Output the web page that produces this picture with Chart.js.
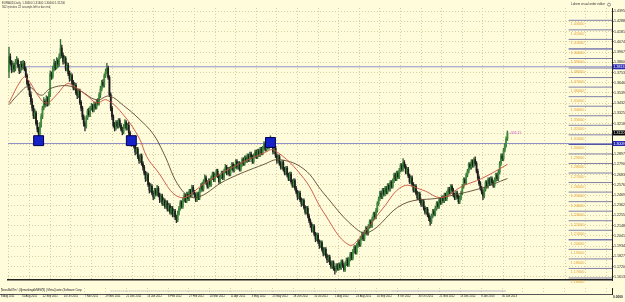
<!DOCTYPE html>
<html>
<head>
<meta charset="utf-8">
<script src="https://cdn.jsdelivr.net/npm/chart.js@4.4.0/dist/chart.umd.min.js"></script>
<style>
  html, body { margin: 0; padding: 0; background: #fff; }
  #wrap { position: relative; width: 625px; height: 302px; background: #FFFCDC; overflow: hidden; }
  #main { position: absolute; left: 0; top: 0; }
  #sub { position: absolute; left: 0; top: 288px; }
</style>
</head>
<body>
<div id="wrap">
  <canvas id="main" width="625" height="288"></canvas>
  <canvas id="sub" width="625" height="14"></canvas>
</div>
<script>
// EURAUD daily bars, 8 Aug 2011 .. 1 Feb 2013 (index = bar number)
const opens = [
  1.3760,1.3920,1.3850,1.3780,1.3830,1.3790,1.3860,1.3880,1.3820,1.3770,
  1.3840,1.3810,1.3850,1.3790,1.3720,1.3640,1.3600,1.3520,1.3450,1.3380,
  1.3300,1.3330,1.3220,1.3160,1.3110,1.3200,1.3290,1.3380,1.3450,1.3420,
  1.3480,1.3430,1.3520,1.3740,1.3710,1.3790,1.3850,1.3800,1.3880,1.3840,
  1.3920,1.4010,1.3930,1.3870,1.3900,1.3790,1.3830,1.3740,1.3690,1.3720,
  1.3640,1.3590,1.3620,1.3540,1.3510,1.3560,1.3440,1.3380,1.3290,1.3220,
  1.3190,1.3280,1.3350,1.3310,1.3380,1.3400,1.3360,1.3420,1.3390,1.3450,
  1.3430,1.3520,1.3580,1.3650,1.3620,1.3720,1.3760,1.3800,1.3700,1.3520,
  1.3380,1.3290,1.3200,1.3170,1.3230,1.3190,1.3250,1.3200,1.3160,1.3130,
  1.3190,1.3230,1.3170,1.3200,1.3120,1.3060,1.3010,1.3050,1.2980,1.2920,
  1.2950,1.2870,1.2830,1.2880,1.2800,1.2760,1.2700,1.2640,1.2680,1.2580,
  1.2520,1.2560,1.2490,1.2450,1.2520,1.2480,1.2540,1.2470,1.2420,1.2460,
  1.2380,1.2410,1.2350,1.2390,1.2320,1.2360,1.2290,1.2330,1.2260,1.2300,
  1.2240,1.2210,1.2280,1.2330,1.2390,1.2350,1.2420,1.2460,1.2410,1.2480,
  1.2430,1.2510,1.2470,1.2550,1.2500,1.2470,1.2420,1.2480,1.2440,1.2520,
  1.2570,1.2530,1.2610,1.2650,1.2600,1.2560,1.2620,1.2580,1.2650,1.2690,
  1.2630,1.2680,1.2720,1.2670,1.2610,1.2660,1.2700,1.2650,1.2720,1.2760,
  1.2700,1.2740,1.2690,1.2750,1.2790,1.2730,1.2770,1.2820,1.2760,1.2800,
  1.2740,1.2790,1.2840,1.2800,1.2860,1.2830,1.2880,1.2840,1.2900,1.2870,
  1.2820,1.2880,1.2920,1.2870,1.2930,1.2890,1.2950,1.2910,1.2960,1.3000,
  1.2950,1.3010,1.2970,1.3020,1.3050,1.2990,1.2920,1.2960,1.2880,1.2830,
  1.2870,1.2800,1.2760,1.2810,1.2740,1.2700,1.2750,1.2680,1.2640,1.2690,
  1.2610,1.2570,1.2620,1.2540,1.2500,1.2450,1.2490,1.2420,1.2380,1.2410,
  1.2340,1.2290,1.2330,1.2250,1.2200,1.2160,1.2100,1.2140,1.2060,1.2010,
  1.2050,1.1980,1.1940,1.1970,1.1900,1.1860,1.1900,1.1830,1.1790,1.1820,
  1.1760,1.1720,1.1760,1.1700,1.1680,1.1730,1.1700,1.1740,1.1710,1.1770,
  1.1730,1.1690,1.1750,1.1790,1.1740,1.1800,1.1850,1.1810,1.1880,1.1920,
  1.1870,1.1940,1.1980,1.1950,1.2020,1.2060,1.2010,1.2080,1.2120,1.2070,
  1.2140,1.2190,1.2150,1.2220,1.2270,1.2240,1.2310,1.2380,1.2430,1.2490,
  1.2450,1.2520,1.2480,1.2540,1.2500,1.2570,1.2530,1.2600,1.2560,1.2620,
  1.2680,1.2640,1.2700,1.2660,1.2730,1.2780,1.2740,1.2810,1.2770,1.2710,
  1.2740,1.2670,1.2610,1.2650,1.2580,1.2520,1.2560,1.2490,1.2440,1.2480,
  1.2410,1.2370,1.2400,1.2330,1.2290,1.2320,1.2260,1.2230,1.2190,1.2250,
  1.2300,1.2270,1.2330,1.2380,1.2350,1.2420,1.2390,1.2440,1.2410,1.2470,
  1.2430,1.2490,1.2530,1.2500,1.2560,1.2520,1.2470,1.2440,1.2490,1.2450,
  1.2400,1.2440,1.2490,1.2560,1.2630,1.2600,1.2680,1.2720,1.2790,1.2760,
  1.2820,1.2780,1.2840,1.2800,1.2720,1.2650,1.2590,1.2540,1.2500,1.2460,
  1.2530,1.2600,1.2560,1.2630,1.2590,1.2640,1.2600,1.2570,1.2630,1.2680,
  1.2640,1.2710,1.2800,1.2880,1.2850,1.2940,1.2990,1.3060
]
const highs = [
  1.4020,1.3950,1.3880,1.3870,1.3850,1.3890,1.3920,1.3900,1.3840,1.3870,
  1.3870,1.3880,1.3870,1.3810,1.3740,1.3670,1.3630,1.3550,1.3480,1.3410,
  1.3370,1.3350,1.3250,1.3180,1.3230,1.3320,1.3400,1.3490,1.3470,1.3510,
  1.3500,1.3550,1.3770,1.3760,1.3820,1.3890,1.3870,1.3910,1.3900,1.3950,
  1.4100,1.4040,1.3960,1.3930,1.3920,1.3860,1.3850,1.3770,1.3750,1.3740,
  1.3670,1.3650,1.3640,1.3570,1.3580,1.3580,1.3460,1.3400,1.3310,1.3240,
  1.3300,1.3370,1.3380,1.3400,1.3430,1.3420,1.3440,1.3440,1.3470,1.3480,
  1.3540,1.3610,1.3670,1.3680,1.3740,1.3790,1.3850,1.3820,1.3720,1.3540,
  1.3400,1.3310,1.3230,1.3250,1.3250,1.3270,1.3270,1.3220,1.3180,1.3210,
  1.3260,1.3250,1.3220,1.3230,1.3140,1.3080,1.3070,1.3070,1.3000,1.2970,
  1.2970,1.2890,1.2900,1.2900,1.2820,1.2780,1.2720,1.2710,1.2700,1.2600,
  1.2590,1.2580,1.2510,1.2540,1.2540,1.2570,1.2560,1.2490,1.2480,1.2480,
  1.2440,1.2430,1.2410,1.2410,1.2380,1.2380,1.2350,1.2350,1.2320,1.2320,
  1.2260,1.2300,1.2350,1.2410,1.2410,1.2440,1.2490,1.2480,1.2500,1.2500,
  1.2530,1.2530,1.2570,1.2570,1.2520,1.2490,1.2500,1.2500,1.2540,1.2590,
  1.2600,1.2630,1.2680,1.2670,1.2620,1.2640,1.2640,1.2670,1.2710,1.2710,
  1.2700,1.2740,1.2740,1.2690,1.2680,1.2720,1.2720,1.2740,1.2790,1.2780,
  1.2760,1.2760,1.2770,1.2810,1.2810,1.2790,1.2840,1.2840,1.2820,1.2820,
  1.2810,1.2860,1.2860,1.2880,1.2880,1.2900,1.2900,1.2920,1.2920,1.2890,
  1.2900,1.2940,1.2940,1.2950,1.2950,1.2970,1.2970,1.2980,1.3030,1.3020,
  1.3030,1.3030,1.3040,1.3090,1.3070,1.3010,1.2980,1.2980,1.2900,1.2890,
  1.2890,1.2820,1.2830,1.2830,1.2760,1.2770,1.2770,1.2700,1.2710,1.2710,
  1.2630,1.2640,1.2640,1.2560,1.2520,1.2510,1.2510,1.2440,1.2430,1.2430,
  1.2360,1.2350,1.2350,1.2270,1.2220,1.2180,1.2160,1.2160,1.2080,1.2070,
  1.2070,1.2000,1.1990,1.1990,1.1920,1.1920,1.1920,1.1850,1.1840,1.1840,
  1.1780,1.1780,1.1780,1.1720,1.1750,1.1750,1.1760,1.1760,1.1790,1.1790,
  1.1750,1.1770,1.1810,1.1810,1.1820,1.1870,1.1870,1.1900,1.1940,1.1940,
  1.1960,1.2000,1.2000,1.2040,1.2080,1.2080,1.2100,1.2140,1.2140,1.2160,
  1.2210,1.2210,1.2240,1.2290,1.2290,1.2330,1.2400,1.2450,1.2510,1.2510,
  1.2540,1.2540,1.2560,1.2560,1.2590,1.2590,1.2620,1.2620,1.2640,1.2700,
  1.2700,1.2720,1.2720,1.2750,1.2800,1.2800,1.2850,1.2830,1.2790,1.2760,
  1.2760,1.2690,1.2670,1.2670,1.2600,1.2580,1.2580,1.2510,1.2500,1.2500,
  1.2430,1.2420,1.2420,1.2350,1.2340,1.2340,1.2280,1.2250,1.2270,1.2320,
  1.2320,1.2350,1.2400,1.2400,1.2440,1.2440,1.2460,1.2460,1.2490,1.2490,
  1.2510,1.2550,1.2550,1.2580,1.2580,1.2540,1.2490,1.2510,1.2510,1.2470,
  1.2460,1.2510,1.2580,1.2650,1.2650,1.2700,1.2740,1.2810,1.2810,1.2840,
  1.2840,1.2860,1.2870,1.2820,1.2740,1.2670,1.2610,1.2560,1.2520,1.2550,
  1.2620,1.2620,1.2650,1.2650,1.2660,1.2660,1.2620,1.2650,1.2700,1.2700,
  1.2730,1.2820,1.2900,1.2900,1.2960,1.3010,1.3080,1.3140
]
const lows = [
  1.3700,1.3830,1.3750,1.3760,1.3760,1.3770,1.3840,1.3800,1.3740,1.3750,
  1.3780,1.3790,1.3770,1.3700,1.3620,1.3570,1.3500,1.3420,1.3350,1.3270,
  1.3270,1.3200,1.3130,1.3050,1.3090,1.3180,1.3270,1.3360,1.3390,1.3400,
  1.3400,1.3410,1.3500,1.3680,1.3690,1.3770,1.3780,1.3790,1.3810,1.3820,
  1.3900,1.3910,1.3840,1.3850,1.3770,1.3770,1.3720,1.3660,1.3670,1.3620,
  1.3570,1.3570,1.3520,1.3480,1.3490,1.3420,1.3350,1.3260,1.3190,1.3140,
  1.3170,1.3260,1.3290,1.3290,1.3360,1.3340,1.3340,1.3370,1.3370,1.3410,
  1.3410,1.3490,1.3560,1.3600,1.3600,1.3700,1.3740,1.3680,1.3500,1.3350,
  1.3260,1.3180,1.3140,1.3150,1.3170,1.3170,1.3180,1.3140,1.3100,1.3110,
  1.3170,1.3150,1.3150,1.3100,1.3040,1.2980,1.2990,1.2960,1.2890,1.2900,
  1.2850,1.2800,1.2810,1.2780,1.2730,1.2680,1.2610,1.2620,1.2560,1.2490,
  1.2500,1.2470,1.2420,1.2430,1.2460,1.2460,1.2450,1.2390,1.2400,1.2360,
  1.2360,1.2330,1.2330,1.2300,1.2300,1.2270,1.2270,1.2240,1.2240,1.2210,
  1.2180,1.2190,1.2260,1.2310,1.2330,1.2330,1.2400,1.2390,1.2390,1.2410,
  1.2410,1.2450,1.2450,1.2480,1.2440,1.2400,1.2400,1.2420,1.2420,1.2500,
  1.2510,1.2510,1.2590,1.2580,1.2540,1.2540,1.2560,1.2560,1.2630,1.2610,
  1.2610,1.2660,1.2650,1.2590,1.2590,1.2640,1.2630,1.2630,1.2700,1.2680,
  1.2680,1.2670,1.2670,1.2730,1.2710,1.2710,1.2750,1.2740,1.2740,1.2720,
  1.2720,1.2770,1.2780,1.2780,1.2810,1.2810,1.2820,1.2820,1.2850,1.2800,
  1.2800,1.2860,1.2850,1.2850,1.2870,1.2870,1.2890,1.2890,1.2940,1.2930,
  1.2930,1.2950,1.2950,1.3000,1.2970,1.2900,1.2900,1.2860,1.2800,1.2810,
  1.2780,1.2740,1.2740,1.2720,1.2680,1.2680,1.2660,1.2620,1.2620,1.2590,
  1.2550,1.2550,1.2520,1.2480,1.2420,1.2430,1.2400,1.2350,1.2360,1.2320,
  1.2270,1.2270,1.2230,1.2180,1.2130,1.2080,1.2080,1.2040,1.1980,1.1990,
  1.1960,1.1910,1.1920,1.1880,1.1830,1.1840,1.1810,1.1760,1.1770,1.1740,
  1.1700,1.1700,1.1680,1.1640,1.1660,1.1680,1.1680,1.1690,1.1690,1.1710,
  1.1670,1.1670,1.1730,1.1720,1.1720,1.1780,1.1790,1.1790,1.1860,1.1850,
  1.1850,1.1920,1.1930,1.1930,1.2000,1.1990,1.1990,1.2060,1.2050,1.2050,
  1.2120,1.2130,1.2130,1.2200,1.2220,1.2220,1.2290,1.2360,1.2410,1.2430,
  1.2430,1.2460,1.2460,1.2480,1.2480,1.2510,1.2510,1.2540,1.2540,1.2600,
  1.2620,1.2620,1.2640,1.2640,1.2710,1.2720,1.2720,1.2750,1.2690,1.2690,
  1.2650,1.2590,1.2590,1.2560,1.2500,1.2500,1.2470,1.2420,1.2420,1.2390,
  1.2350,1.2350,1.2310,1.2270,1.2270,1.2240,1.2200,1.2150,1.2170,1.2230,
  1.2250,1.2250,1.2310,1.2330,1.2330,1.2370,1.2370,1.2390,1.2390,1.2410,
  1.2410,1.2470,1.2480,1.2480,1.2500,1.2450,1.2420,1.2420,1.2430,1.2380,
  1.2380,1.2420,1.2470,1.2540,1.2580,1.2580,1.2660,1.2700,1.2740,1.2740,
  1.2760,1.2760,1.2780,1.2700,1.2630,1.2570,1.2520,1.2480,1.2420,1.2440,
  1.2510,1.2540,1.2540,1.2570,1.2570,1.2580,1.2550,1.2550,1.2610,1.2620,
  1.2620,1.2690,1.2780,1.2830,1.2830,1.2920,1.2970,1.3040
]
const closes = [
  1.3920,1.3850,1.3780,1.3830,1.3790,1.3860,1.3880,1.3820,1.3770,1.3840,
  1.3810,1.3850,1.3790,1.3720,1.3640,1.3600,1.3520,1.3450,1.3380,1.3300,
  1.3330,1.3220,1.3160,1.3110,1.3200,1.3290,1.3380,1.3450,1.3420,1.3480,
  1.3430,1.3520,1.3740,1.3710,1.3790,1.3850,1.3800,1.3880,1.3840,1.3920,
  1.4010,1.3930,1.3870,1.3900,1.3790,1.3830,1.3740,1.3690,1.3720,1.3640,
  1.3590,1.3620,1.3540,1.3510,1.3560,1.3440,1.3380,1.3290,1.3220,1.3190,
  1.3280,1.3350,1.3310,1.3380,1.3400,1.3360,1.3420,1.3390,1.3450,1.3430,
  1.3520,1.3580,1.3650,1.3620,1.3720,1.3760,1.3800,1.3700,1.3520,1.3380,
  1.3290,1.3200,1.3170,1.3230,1.3190,1.3250,1.3200,1.3160,1.3130,1.3190,
  1.3230,1.3170,1.3200,1.3120,1.3060,1.3010,1.3050,1.2980,1.2920,1.2950,
  1.2870,1.2830,1.2880,1.2800,1.2760,1.2700,1.2640,1.2680,1.2580,1.2520,
  1.2560,1.2490,1.2450,1.2520,1.2480,1.2540,1.2470,1.2420,1.2460,1.2380,
  1.2410,1.2350,1.2390,1.2320,1.2360,1.2290,1.2330,1.2260,1.2300,1.2240,
  1.2210,1.2280,1.2330,1.2390,1.2350,1.2420,1.2460,1.2410,1.2480,1.2430,
  1.2510,1.2470,1.2550,1.2500,1.2470,1.2420,1.2480,1.2440,1.2520,1.2570,
  1.2530,1.2610,1.2650,1.2600,1.2560,1.2620,1.2580,1.2650,1.2690,1.2630,
  1.2680,1.2720,1.2670,1.2610,1.2660,1.2700,1.2650,1.2720,1.2760,1.2700,
  1.2740,1.2690,1.2750,1.2790,1.2730,1.2770,1.2820,1.2760,1.2800,1.2740,
  1.2790,1.2840,1.2800,1.2860,1.2830,1.2880,1.2840,1.2900,1.2870,1.2820,
  1.2880,1.2920,1.2870,1.2930,1.2890,1.2950,1.2910,1.2960,1.3000,1.2950,
  1.3010,1.2970,1.3020,1.3050,1.2990,1.2920,1.2960,1.2880,1.2830,1.2870,
  1.2800,1.2760,1.2810,1.2740,1.2700,1.2750,1.2680,1.2640,1.2690,1.2610,
  1.2570,1.2620,1.2540,1.2500,1.2450,1.2490,1.2420,1.2380,1.2410,1.2340,
  1.2290,1.2330,1.2250,1.2200,1.2160,1.2100,1.2140,1.2060,1.2010,1.2050,
  1.1980,1.1940,1.1970,1.1900,1.1860,1.1900,1.1830,1.1790,1.1820,1.1760,
  1.1720,1.1760,1.1700,1.1680,1.1730,1.1700,1.1740,1.1710,1.1770,1.1730,
  1.1690,1.1750,1.1790,1.1740,1.1800,1.1850,1.1810,1.1880,1.1920,1.1870,
  1.1940,1.1980,1.1950,1.2020,1.2060,1.2010,1.2080,1.2120,1.2070,1.2140,
  1.2190,1.2150,1.2220,1.2270,1.2240,1.2310,1.2380,1.2430,1.2490,1.2450,
  1.2520,1.2480,1.2540,1.2500,1.2570,1.2530,1.2600,1.2560,1.2620,1.2680,
  1.2640,1.2700,1.2660,1.2730,1.2780,1.2740,1.2810,1.2770,1.2710,1.2740,
  1.2670,1.2610,1.2650,1.2580,1.2520,1.2560,1.2490,1.2440,1.2480,1.2410,
  1.2370,1.2400,1.2330,1.2290,1.2320,1.2260,1.2230,1.2190,1.2250,1.2300,
  1.2270,1.2330,1.2380,1.2350,1.2420,1.2390,1.2440,1.2410,1.2470,1.2430,
  1.2490,1.2530,1.2500,1.2560,1.2520,1.2470,1.2440,1.2490,1.2450,1.2400,
  1.2440,1.2490,1.2560,1.2630,1.2600,1.2680,1.2720,1.2790,1.2760,1.2820,
  1.2780,1.2840,1.2800,1.2720,1.2650,1.2590,1.2540,1.2500,1.2460,1.2530,
  1.2600,1.2560,1.2630,1.2590,1.2640,1.2600,1.2570,1.2630,1.2680,1.2640,
  1.2710,1.2800,1.2880,1.2850,1.2940,1.2990,1.3060,1.3120
]

// moving averages at a few bars
const fastIdx = [0, 9, 13, 25, 30, 38, 45, 51, 61, 68, 76, 89, 101, 107, 114, 133, 152, 175, 198, 206, 229, 244, 264, 275, 290, 306, 321, 336, 352, 367, 387]
const fastMa = [1.3436, 1.3665, 1.3704, 1.3466, 1.3436, 1.3535, 1.3635, 1.3605, 1.3506, 1.3436, 1.3466, 1.3307, 1.3068, 1.2870, 1.2741, 1.2443, 1.2592, 1.2771, 1.2910, 1.2939, 1.2642, 1.2294, 1.1946, 1.2066, 1.2324, 1.2562, 1.2522, 1.2443, 1.2562, 1.2642, 1.2790]
const slowIdx = [0, 8, 15, 25, 32, 45, 55, 68, 78, 89, 101, 112, 120, 133, 145, 168, 198, 210, 229, 244, 267, 279, 306, 336, 367, 387]
const slowMa = [1.3416, 1.3535, 1.3605, 1.3515, 1.3585, 1.3615, 1.3565, 1.3466, 1.3506, 1.3406, 1.3267, 1.3108, 1.2910, 1.2542, 1.2443, 1.2622, 1.2791, 1.2840, 1.2741, 1.2493, 1.2145, 1.2076, 1.2374, 1.2443, 1.2542, 1.2642]

// chart objects
const hLines = [1.3813, 1.3009]
const markIdx = [23, 95, 203]
const markPrice = [1.3039, 1.3039, 1.3020]
const orderLevels = [1.43, 1.42, 1.41, 1.40, 1.39, 1.38, 1.37, 1.36, 1.35, 1.34, 1.33, 1.32, 1.31, 1.30,
  1.29, 1.28, 1.27, 1.26, 1.25, 1.24, 1.23, 1.22, 1.21, 1.20, 1.19, 1.18, 1.17, 1.16]
const newsFrom = [84, 300]
const newsTo = [300, 387]

// axes
const dateTickIdx = [0, 16, 32, 48, 64, 80, 96, 112, 128, 144, 160, 176, 192, 208, 224, 240, 256, 272, 288, 304, 320, 336, 352, 368, 384, 400, 416, 432, 448, 464]
const dateLabels = ['8 Aug 2011', '31 Aug 2011', '22 Sep 2011', '14 Oct 2011', '7 Nov 2011', '29 Nov 2011', '21 Dec 2011', '13 Jan 2012',
  '6 Feb 2012', '27 Feb 2012', '20 Mar 2012', '11 Apr 2012', '3 May 2012', '25 May 2012', '18 Jun 2012', '10 Jul 2012',
  '1 Aug 2012', '23 Aug 2012', '14 Sep 2012', '8 Oct 2012', '30 Oct 2012', '21 Nov 2012', '13 Dec 2012', '8 Jan 2013', '30 Jan 2013']
const priceTicks = [1.4395, 1.4288, 1.4181, 1.4074, 1.3967, 1.3860, 1.3753, 1.3646, 1.3539, 1.3432, 1.3325, 1.3218, 1.3111, 1.3004,
  1.2897, 1.2790, 1.2683, 1.2576, 1.2469, 1.2362, 1.2255, 1.2148, 1.2041, 1.1934, 1.1827, 1.1720, 1.1613]

const X_MIN = -0.77, X_MAX = 468.2
const Y_MIN = 1.1579, Y_MAX = 1.4429
const LEVEL_FROM = 434.5
const FONT = "'Liberation Sans', Arial, sans-serif"
const GRID = '#D8D0A4'

const last = closes.length - 1
const bull = closes.map((c, i) => c >= opens[i])

const datasets = [
  {
    type: 'scatter', order: 0,
    data: markIdx.map((v, i) => ({ x: v, y: markPrice[i] })),
    pointStyle: 'rect', pointRadius: 7, backgroundColor: '#1422C8', borderColor: '#000050', borderWidth: 1,
  },
  {
    type: 'line', order: 1,
    data: fastIdx.map((v, i) => ({ x: v, y: fastMa[i] })),
    borderColor: '#C8503C', borderWidth: 0.9, pointRadius: 0, tension: 0.4, fill: false,
  },
  {
    type: 'line', order: 1,
    data: slowIdx.map((v, i) => ({ x: v, y: slowMa[i] })),
    borderColor: '#5A4630', borderWidth: 0.9, pointRadius: 0, tension: 0.4, fill: false,
  },
  {
    type: 'bar', order: 2, grouped: false, barThickness: 1.1,
    data: closes.map((c, i) => ({ x: i, y: [opens[i], c] })),
    backgroundColor: bull.map(b => b ? '#3F8C3F' : '#1C1C1C'),
  },
  {
    type: 'bar', order: 3, grouped: false, barThickness: 0.7,
    data: closes.map((c, i) => ({ x: i, y: [lows[i], highs[i]] })),
    backgroundColor: bull.map(b => b ? '#356F35' : '#2A2A2A'),
  },
  ...hLines.map(v => ({
    type: 'line', order: 5,
    data: [{ x: X_MIN, y: v }, { x: X_MAX, y: v }],
    borderColor: '#9090C8', borderWidth: 1, pointRadius: 0,
  })),
  ...orderLevels.map(v => ({
    type: 'line', order: 5,
    data: [{ x: LEVEL_FROM, y: v }, { x: X_MAX, y: v }],
    borderColor: Math.abs(v * 10 - Math.round(v * 10)) < 1e-6 ? '#3E3E9E' : '#8080A8', borderWidth: 1, pointRadius: 0,
  })),
]

const fmt5 = v => v.toFixed(5)

const overlay = {
  id: 'overlay',
  afterDraw(chart) {
    const { ctx, scales: { x, y }, chartArea } = chart
    ctx.save()
    ctx.textBaseline = 'top'
    ctx.fillStyle = '#3A3A3A'
    ctx.font = `2.8px ${FONT}`
    ctx.fillText(`EURAUD,Daily  ${fmt5(opens[last])} ${fmt5(highs[last])} ${fmt5(lows[last])} ${fmt5(closes[last])}`, 2, 2)
    ctx.fillText('562 minutes 22 seconds left to bar end', 2, 5.6)

    // order editor panel
    ctx.font = `3px ${FONT}`
    ctx.fillStyle = '#333'
    ctx.fillText('Lahem visual order editor', 571, 3)
    ctx.strokeStyle = '#555'
    ctx.lineWidth = 0.6
    ctx.beginPath(); ctx.arc(609, 4.6, 1.5, 0, Math.PI * 2); ctx.stroke()
    ctx.font = `3.8px ${FONT}`
    ctx.fillStyle = '#E3A33C'
    const lx = x.getPixelForValue(LEVEL_FROM) + 2
    orderLevels.forEach(v => ctx.fillText(v.toFixed(5), lx, y.getPixelForValue(v) + 2))

    // profit label next to the last bar
    ctx.font = `3.2px ${FONT}`
    ctx.fillStyle = '#C040C0'
    ctx.textBaseline = 'middle'
    ctx.fillText('+555.21', x.getPixelForValue(last) + 2, y.getPixelForValue(highs[last]) + 2)

    // tags on the price axis
    const tag = (v, bg) => {
      const py = y.getPixelForValue(v)
      ctx.fillStyle = bg
      ctx.fillRect(chartArea.right + 1, py - 2.5, 12, 5)
      ctx.fillStyle = '#fff'
      ctx.font = `3.6px ${FONT}`
      ctx.fillText(v.toFixed(4), chartArea.right + 1.5, py + 0.2)
    }
    hLines.forEach(v => tag(v, '#2828B8'))
    tag(closes[last], '#000')
    ctx.restore()
  }
}

new Chart(document.getElementById('main'), {
  type: 'bar',
  data: { datasets },
  options: {
    responsive: false,
    animation: false,
    events: [],
    layout: { padding: 0 },
    plugins: { legend: { display: false }, tooltip: { enabled: false } },
    scales: {
      x: {
        type: 'linear', min: X_MIN, max: X_MAX, offset: false,
        afterBuildTicks: s => { s.ticks = dateTickIdx.map(v => ({ value: v })) },
        afterFit: s => { s.height = 1; s.paddingLeft = 0; s.paddingRight = 0 },
        ticks: { display: false },
        grid: { color: GRID, lineWidth: 1, drawTicks: false, offset: false },
        border: { display: true, color: '#222', width: 1.5, dash: [1, 2] },
      },
      y: {
        position: 'right', min: Y_MIN, max: Y_MAX,
        afterBuildTicks: s => { s.ticks = priceTicks.map(v => ({ value: v })) },
        afterFit: s => { s.width = 13; s.paddingTop = 0; s.paddingBottom = 0 },
        ticks: { font: { family: FONT, size: 3.6 }, color: '#222', padding: 0.5, autoSkip: false, callback: v => v.toFixed(4) },
        grid: { color: GRID, lineWidth: 1, tickLength: 1.5, tickColor: '#222' },
        border: { display: true, color: '#222', width: 1, dash: [1, 2] },
      },
    },
  },
  plugins: [overlay],
})

const subOverlay = {
  id: 'subOverlay',
  afterDraw(chart) {
    const { ctx, chartArea } = chart
    ctx.save()
    ctx.textBaseline = 'top'
    ctx.font = `2.8px ${FONT}`
    ctx.fillStyle = '#222'
    ctx.fillText('NewsBallTm \\ (IlpmarkingdbNEWS) | MetaQuotes Software Corp.', 1, 1)
    ctx.font = `bold 3.2px ${FONT}`
    ctx.fillText('0.0000', chartArea.right + 1, 7.5)
    ctx.restore()
  }
}

new Chart(document.getElementById('sub'), {
  type: 'line',
  data: {
    datasets: newsFrom.map((f, i) => ({
      data: [{ x: f, y: 0 }, { x: newsTo[i], y: 0 }],
      borderColor: i ? '#6A6AB0' : '#9A9A9A', borderWidth: 1, borderDash: [1, 1], pointRadius: 0,
    })),
  },
  options: {
    responsive: false,
    animation: false,
    events: [],
    layout: { padding: 0 },
    plugins: { legend: { display: false }, tooltip: { enabled: false } },
    scales: {
      x: {
        type: 'linear', min: X_MIN, max: X_MAX,
        afterBuildTicks: s => { s.ticks = dateTickIdx.map(v => ({ value: v })) },
        afterFit: s => { s.height = 8; s.paddingLeft = 0; s.paddingRight = 0 },
        ticks: {
          font: { family: FONT, size: 2.7 }, color: '#222', padding: 1, align: 'start',
          maxRotation: 0, autoSkip: false,
          callback: (v, i) => dateLabels[i] || '',
        },
        grid: { color: GRID, drawTicks: false },
        border: { display: true, color: '#555', width: 1, dash: [1, 2] },
      },
      y: {
        position: 'right', min: -1, max: 1,
        afterFit: s => { s.width = 13; s.paddingTop = 0; s.paddingBottom = 0 },
        ticks: { display: false },
        grid: { display: false },
        border: { display: true, color: '#222', width: 1 },
      },
    },
  },
  plugins: [subOverlay],
})
</script>
</body>
</html>
